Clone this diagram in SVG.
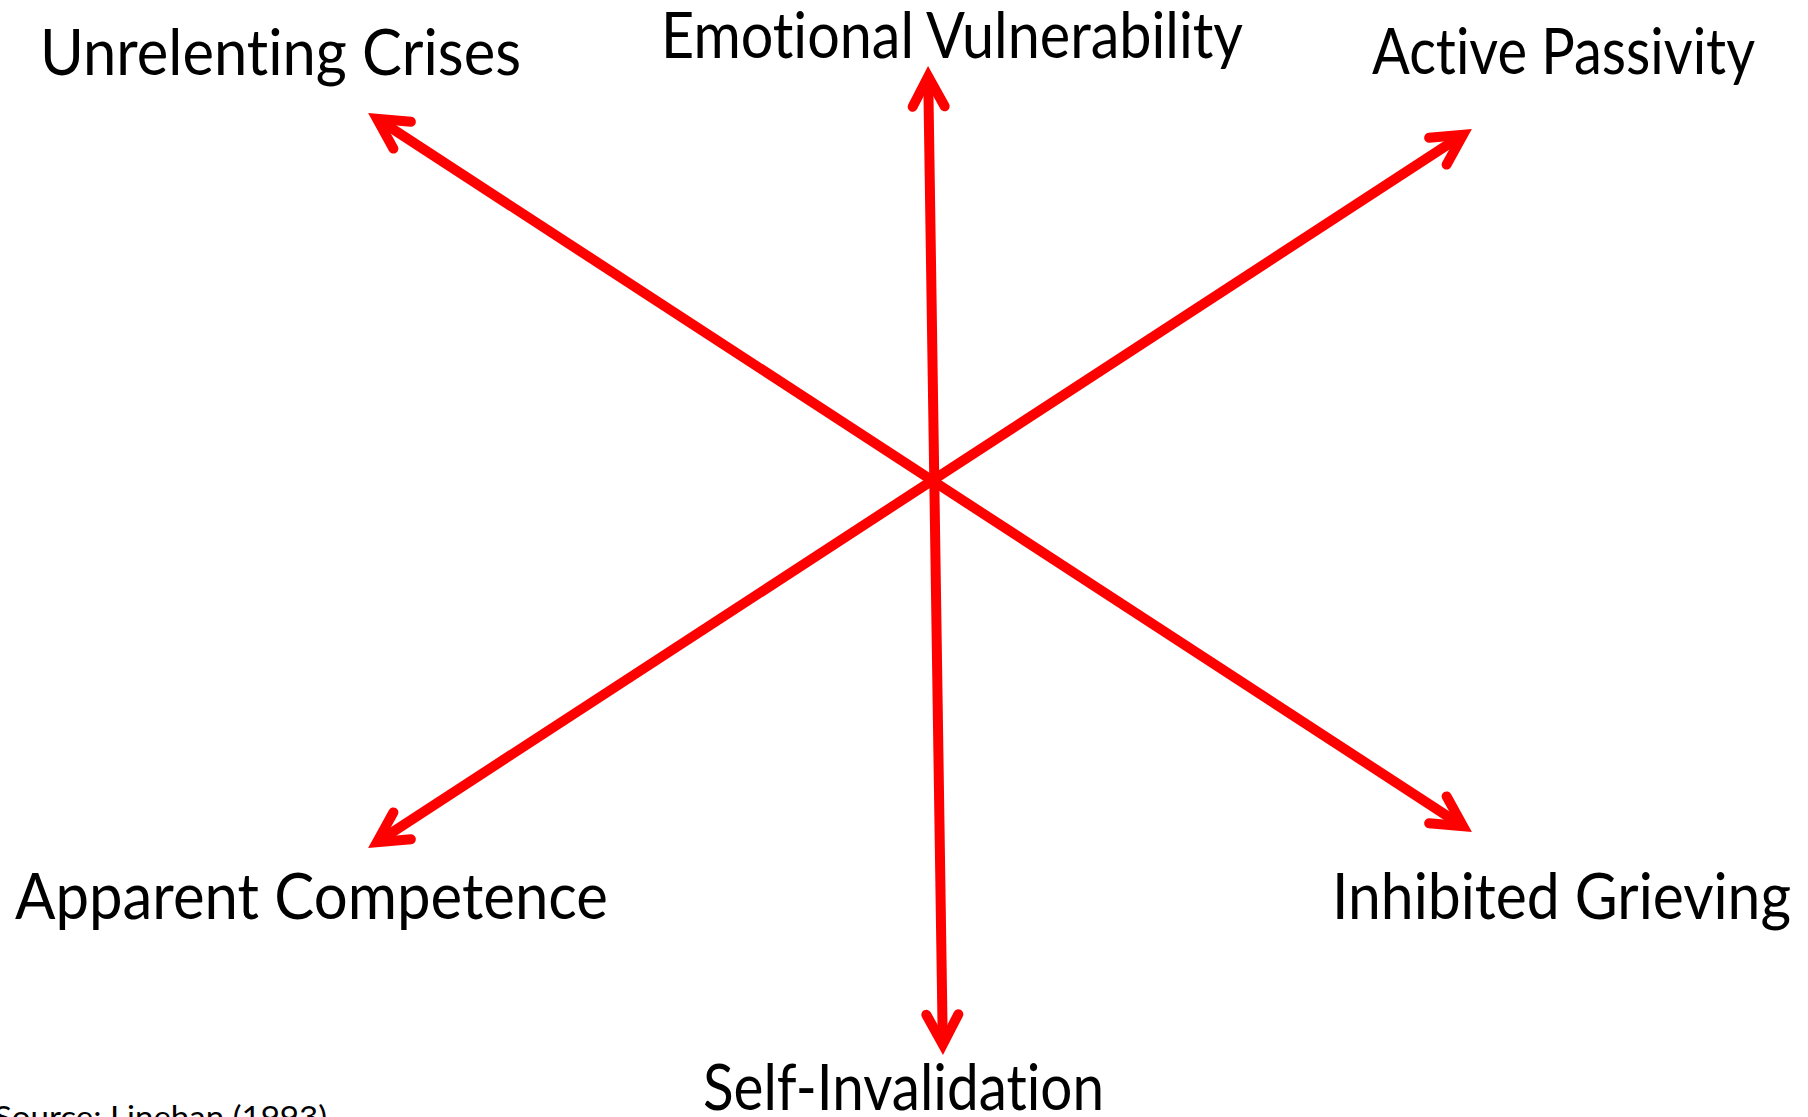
<svg xmlns="http://www.w3.org/2000/svg" width="1808" height="1117" viewBox="0 0 1808 1117">
  <style>
    .label { font-family: Lato, "Open Sans", "Liberation Sans", sans-serif; font-size: 64px; fill: #000; font-variant-ligatures: none; font-feature-settings: "liga" 0, "clig" 0; }
    .source { font-family: Lato, "Open Sans", "Liberation Sans", sans-serif; font-size: 30px; fill: #000; font-variant-ligatures: none; }
    .axis { stroke: #ff0000; stroke-width: 10; fill: none; stroke-linecap: butt; marker-start: url(#head); marker-end: url(#head); }
  </style>
  <defs>
    <!-- open chevron head, sharp tip, rounded barb ends -->
    <marker id="head" markerUnits="userSpaceOnUse" orient="auto-start-reverse" refX="0" refY="0" markerWidth="60" markerHeight="60" overflow="visible">
      <path d="M -30,-16 L 0,0 L -30,16" fill="none" stroke="#ff0000" stroke-width="10" stroke-linecap="round" stroke-linejoin="miter" stroke-miterlimit="10"/>
    </marker>
  </defs>
  <rect width="1808" height="1117" fill="#fff"/>

  <g id="connectors">
    <line class="axis" x1="928.2" y1="76.5" x2="942.8" y2="1044.5"/>
    <line class="axis" x1="377" y1="118.8" x2="1463" y2="826.2"/>
    <line class="axis" x1="1463" y1="134.8" x2="377" y2="842.2"/>
  </g>

  <g id="unrelenting-crises">
    <text class="label" x="40" y="75" textLength="481" lengthAdjust="spacingAndGlyphs">Unrelenting Crises</text>
  </g>
  <g id="emotional-vulnerability">
    <text class="label" y="58"><tspan x="661" textLength="253" lengthAdjust="spacingAndGlyphs">Emotional</tspan><tspan x="926" textLength="317" lengthAdjust="spacingAndGlyphs">Vulnerability</tspan></text>
  </g>
  <g id="active-passivity">
    <text class="label" x="1372" y="74" textLength="383" lengthAdjust="spacingAndGlyphs">Active Passivity</text>
  </g>
  <g id="apparent-competence">
    <text class="label" x="15" y="919" textLength="593" lengthAdjust="spacingAndGlyphs">Apparent Competence</text>
  </g>
  <g id="inhibited-grieving">
    <text class="label" x="1332" y="919" textLength="459" lengthAdjust="spacingAndGlyphs">Inhibited Grieving</text>
  </g>
  <g id="self-invalidation">
    <text class="label" x="703" y="1110" textLength="401" lengthAdjust="spacingAndGlyphs">Self-Invalidation</text>
  </g>
  <g id="source">
    <text class="source" x="-6" y="1128" textLength="333" lengthAdjust="spacingAndGlyphs">Source: Linehan (1993)</text>
  </g>
</svg>
